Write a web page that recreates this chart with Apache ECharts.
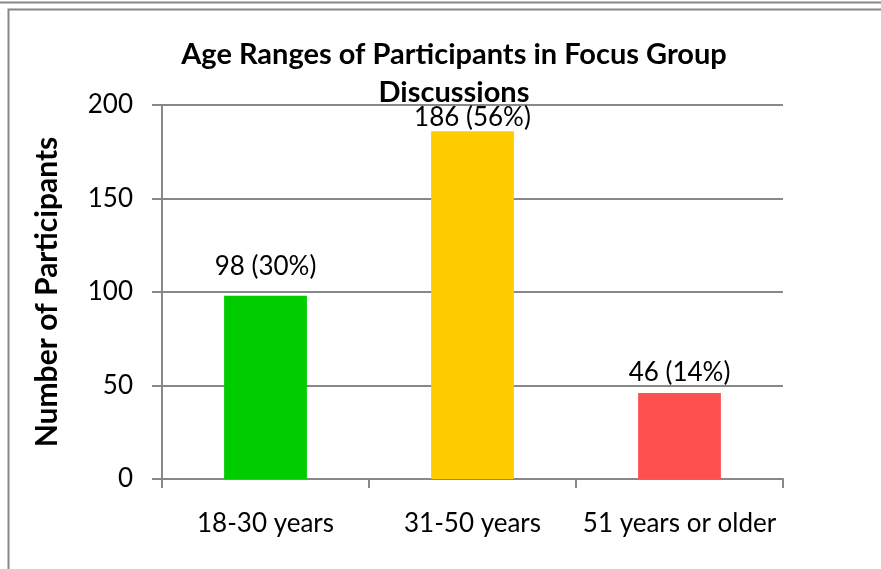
<!DOCTYPE html>
<html><head><meta charset="utf-8">
<script src="https://cdn.jsdelivr.net/npm/echarts@6/dist/echarts.min.js"></script>
<style>html,body{margin:0;padding:0;background:#fff}#c{width:881px;height:569px}</style>
</head><body><div id="c"></div>
<script>
const categories = ['18-30 years', '31-50 years', '51 years or older'];
const values = [98, 186, 46];
const labels = ['98 (30%)', '186 (56%)', '46 (14%)'];
const colors = ['#00CC00', '#FFCC00', '#FF5050'];
const yTicks = [0, 50, 100, 150, 200];
const labelGaps = [16, 1, 7];

const FONT = 'Lato';
const chart = echarts.init(document.getElementById('c'));
chart.setOption({
  animation: false,
  textStyle: { fontFamily: FONT },
  title: {
    text: 'Age Ranges of Participants in Focus Group\nDiscussions',
    left: 449, top: 31, textAlign: 'center',
    textStyle: { fontFamily: FONT, fontWeight: 'bold', fontSize: 29, color: '#000', lineHeight: 38 }
  },
  graphic: [
    { type: 'line', shape: { x1: 0, y1: 2.5, x2: 881, y2: 2.5 }, style: { stroke: '#888', lineWidth: 2 } },
    { type: 'rect', shape: { x: 8.5, y: 9.5, width: 900, height: 600 }, style: { fill: 'none', stroke: '#888', lineWidth: 2 } }
  ],
  grid: { left: 162, right: 98, top: 105, bottom: 90 },
  xAxis: {
    type: 'category', data: categories,
    axisLine: { lineStyle: { color: '#888', width: 2 } },
    axisTick: { show: true, length: 9, lineStyle: { color: '#888', width: 2 } },
    axisLabel: { interval: 0, fontFamily: FONT, fontSize: 26, color: '#000', margin: 32 }
  },
  yAxis: {
    type: 'value', min: yTicks[0], max: yTicks[yTicks.length - 1], interval: 50,
    name: 'Number of Participants', nameLocation: 'middle', nameGap: 100,
    nameTextStyle: { fontFamily: FONT, fontWeight: 'bold', fontSize: 30, color: '#000' },
    axisLine: { show: true, lineStyle: { color: '#888', width: 2 } },
    axisTick: { show: true, length: 10, lineStyle: { color: '#888', width: 2 } },
    splitLine: { lineStyle: { color: '#888', width: 2 } },
    axisLabel: { fontFamily: FONT, fontSize: 26, color: '#000', margin: 29 }
  },
  series: [{
    type: 'bar', barWidth: '40%',
    data: values.map((v, i) => ({ value: v, itemStyle: { color: colors[i] }, label: { distance: labelGaps[i] } })),
    label: {
      show: true, position: 'top',
      fontFamily: FONT, fontSize: 26, lineHeight: 26, color: '#000',
      formatter: p => labels[p.dataIndex]
    }
  }]
});
</script></body></html>
